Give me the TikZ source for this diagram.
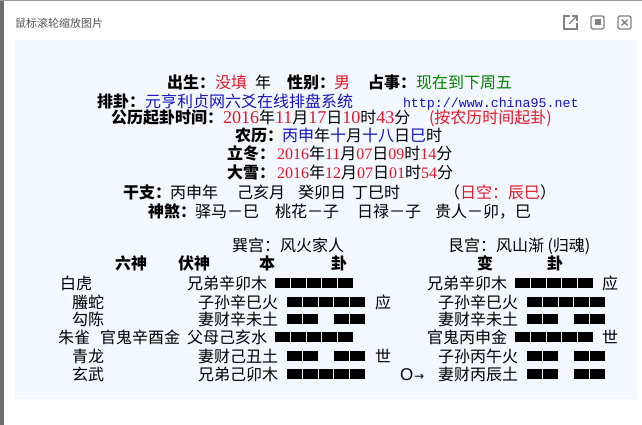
\documentclass[tikz,border=0pt]{standalone}
\usepackage{fontspec}
\newfontfamily\cjk{Noto Sans CJK SC}
\newfontfamily\serifd{Liberation Serif}
\newfontfamily\monof{Liberation Mono}
\newfontfamily\djv{DejaVu Sans}
\newfontfamily\lsans{Liberation Sans}
\definecolor{cred}{RGB}{222,24,40}
\definecolor{cblue}{RGB}{20,20,190}
\definecolor{cgreen}{RGB}{0,128,0}
\definecolor{panel}{RGB}{243,248,254}
\definecolor{edge}{RGB}{110,110,110}
\definecolor{icon}{RGB}{130,130,130}
\definecolor{titlegray}{RGB}{80,80,80}
\newcommand\rdA[1]{{\color{cred}\serifd\fontsize{18}{18}\selectfont #1}}
\newcommand\rdB[1]{{\color{cred}\serifd\fontsize{16}{16}\selectfont #1}}
\newcommand\bl[1]{{\color{cblue}#1}}
\tikzset{
  t/.style={anchor=base west, inner sep=0pt, outer sep=0pt, font=\cjk\fontsize{16}{16}\selectfont, text=black},
  b/.style={t, font=\cjk\bfseries\fontsize{16}{16}\selectfont},
  iconline/.style={draw=icon, line width=1.4pt},
  yangbar/.pic={\foreach \i in {0,...,4}{\fill[black] (\i*15.8,-4.6) rectangle ++(14.8,9.2);}},
  yinbar/.pic={\foreach \i in {0,1,3,4}{\fill[black] (\i*15.8,-4.6) rectangle ++(14.8,9.2);}}
}
\begin{document}
\begin{tikzpicture}[x=1pt,y=-1pt]
\useasboundingbox (0,0) rectangle (642,425);
\fill[white] (0,0) rectangle (642,425);
\fill[edge] (0,0) rectangle (4,425);
\fill[edge!70] (0,0) rectangle (642,1);
\fill[panel] (15,40) rectangle (637,399);
% title bar
\node[anchor=west, inner sep=0pt, font=\cjk\fontsize{11}{11}\selectfont, text=titlegray] (title) at (15,23) {鼠标滚轮缩放图片};
% icons
\draw[iconline] (570,16) -- (564,16) -- (564,29) -- (577,29) -- (577,23);
\draw[iconline] (569,24) -- (577,16);
\draw[iconline] (572,16) -- (577,16) -- (577,21);
\draw[iconline, rounded corners=1.5pt] (591,16) rectangle (604,29);
\fill[icon] (594.5,19.5) rectangle (600.5,25.5);
\draw[iconline, rounded corners=1.5pt] (618,16) rectangle (631,29);
\draw[iconline] (621.5,19.5) -- (627.5,25.5) (627.5,19.5) -- (621.5,25.5);
% row 1
\node[b] (cs) at (167,89) {出生：};
\node[t, text=cred] (cs1) at (215,89) {没填};
\node[t] (cs2) at (255,89) {年};
\node[b] (xb) at (287,89) {性别：};
\node[t, text=cred] (xb1) at (334,89) {男};
\node[b] (zs) at (368,89) {占事：};
\node[t, text=cgreen] (zs1) at (416,89) {现在到下周五};
% row 2
\node[b] (pg) at (97,107) {排卦：};
\node[t, text=cblue] (pg1) at (145,107) {元亨利贞网六爻在线排盘系统};
\node[t, font=\monof\fontsize{13.3}{13.3}\selectfont, text=cblue] (url) at (403,107) {http://www.china95.net};
% row 3
\node[b] (gl) at (111,124) {公历起卦时间：};
\node[t] (gl1) at (223,124) {\rdA{2016}年\rdA{11}月\rdA{17}日\rdA{10}时\rdA{43}分};
\node[t, text=cred] (gl2) at (429,124) {(按农历时间起卦)};
% row 4
\node[b] (nl) at (235,141) {农历：};
\node[t] (nl1) at (282,141) {\bl{丙申}年\bl{十}月\bl{十八}日\bl{巳}时};
% row 5
\node[b] (ld) at (227,159) {立冬：};
\node[t] (ld1) at (277,159) {\rdB{2016}年\rdB{11}月\rdB{07}日\rdB{09}时\rdB{14}分};
% row 6
\node[b] (dx) at (227,178) {大雪：};
\node[t] (dx1) at (277,178) {\rdB{2016}年\rdB{12}月\rdB{07}日\rdB{01}时\rdB{54}分};
% row 7
\node[b] (gz) at (123,198) {干支：};
\node[t] (gz1) at (170,198) {丙申年};
\node[t] (gz2) at (237,198) {己亥月};
\node[t] (gz3) at (298,198) {癸卯日};
\node[t] (gz4) at (352,198) {丁巳时};
\node[t] (gz5) at (444,198) {（\textcolor{cred}{日空：辰巳}）};
% row 8
\node[b] (ss) at (148,217) {神煞：};
\node[t] (ss1) at (195,217) {驿马－巳};
\node[t] (ss2) at (275,217) {桃花－子};
\node[t] (ss3) at (357,217) {日禄－子};
\node[t] (ss4) at (435,217) {贵人－卯，巳};
% gong titles
\node[t] (g1) at (232,251) {巽宫：风火家人};
\node[t] (g2) at (448,251) {艮宫：风山渐 (归魂)};
% headers
\node[b] (h1) at (115,269) {六神};
\node[b] (h2) at (178,269) {伏神};
\node[b] (h3) at (259,269) {本};
\node[b] (h4) at (331,269) {卦};
\node[b] (h5) at (477,269) {变};
\node[b] (h6) at (547,269) {卦};
% left six gods
\node[t] (l1) at (60,289) {白虎};
\node[t] (l2) at (72,308) {螣蛇};
\node[t] (l3) at (72,325) {勾陈};
\node[t] (l4) at (58,343) {朱雀};
\node[t] (l4b) at (100,343) {官鬼辛酉金};
\node[t] (l5) at (72,362) {青龙};
\node[t] (l6) at (72,380) {玄武};
% main hexagram
\node[t] (m1) at (187,289) {兄弟辛卯木};
\node[t] (m2) at (198,308) {子孙辛巳火};
\node[t] (m3) at (198,325) {妻财辛未土};
\node[t] (m4) at (187,343) {父母己亥水};
\node[t] (m5) at (198,362) {妻财己丑土};
\node[t] (m6) at (198,380) {兄弟己卯木};
\pic at (275,283) {yangbar};
\pic at (287,302) {yangbar};
\pic at (287,319) {yinbar};
\pic at (275,337) {yangbar};
\pic at (287,356) {yinbar};
\pic at (287,374) {yangbar};
\node[t] (ying1) at (375,308) {应};
\node[t] (shi1) at (375,362) {世};
% changed hexagram
\node[t] (c1) at (427,289) {兄弟辛卯木};
\node[t] (c2) at (438,308) {子孙辛巳火};
\node[t] (c3) at (438,325) {妻财辛未土};
\node[t] (c4) at (427,343) {官鬼丙申金};
\node[t] (c5) at (438,362) {子孙丙午火};
\node[t] (c6) at (438,380) {妻财丙辰土};
\pic at (515,283) {yangbar};
\pic at (527,302) {yangbar};
\pic at (527,319) {yinbar};
\pic at (515,337) {yangbar};
\pic at (527,356) {yinbar};
\pic at (527,374) {yinbar};
\node[t] (ying2) at (602,289) {应};
\node[t] (shi2) at (602,343) {世};
\node[t] (ptr) at (400,380) {{\lsans\fontsize{17}{17}\selectfont O}\hspace{1pt}{\djv\fontsize{12}{12}\selectfont →}};
\end{tikzpicture}
\end{document}
